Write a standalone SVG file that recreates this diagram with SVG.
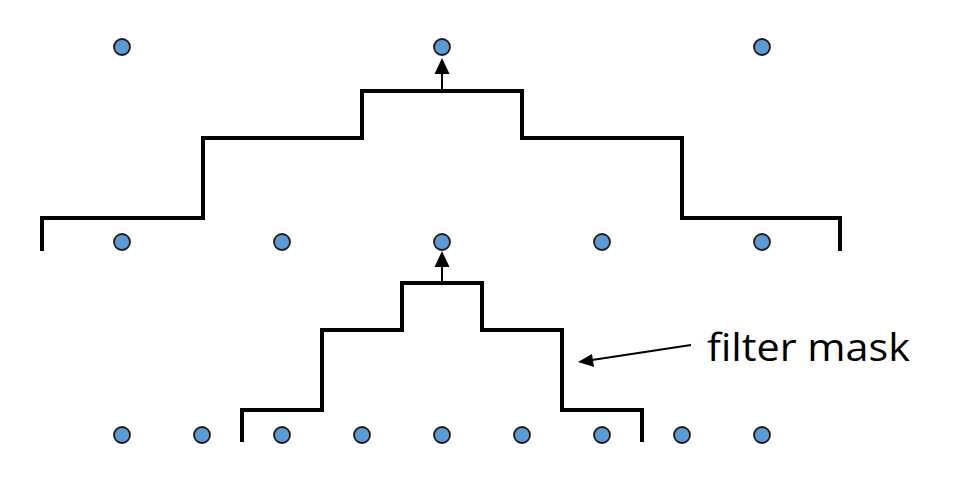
<svg xmlns="http://www.w3.org/2000/svg" width="954" height="499" viewBox="0 0 954 499">
<style>
.dot{fill:#5B9BD5;stroke:#1a1a1a;stroke-width:1.8}
.mask{fill:none;stroke:#000;stroke-width:4;stroke-linejoin:miter}
.arr{fill:none;stroke:#000;stroke-width:2}
.lbl{font-family:"Open Sans","Liberation Sans",Arial,sans-serif;font-size:38px;fill:#000}
</style>
<rect width="954" height="499" fill="#fff"/>
<g id="row-top">
<circle class="dot" cx="122" cy="47" r="8"/>
<circle class="dot" cx="442" cy="47" r="8"/>
<circle class="dot" cx="762" cy="47" r="8"/>
</g>
<g id="row-middle">
<circle class="dot" cx="122" cy="242" r="8"/>
<circle class="dot" cx="282" cy="242" r="8"/>
<circle class="dot" cx="442" cy="242" r="8"/>
<circle class="dot" cx="602" cy="242" r="8"/>
<circle class="dot" cx="762" cy="242" r="8"/>
</g>
<g id="row-bottom">
<circle class="dot" cx="122" cy="435" r="8"/>
<circle class="dot" cx="202" cy="435" r="8"/>
<circle class="dot" cx="282" cy="435" r="8"/>
<circle class="dot" cx="362" cy="435" r="8"/>
<circle class="dot" cx="442" cy="435" r="8"/>
<circle class="dot" cx="522" cy="435" r="8"/>
<circle class="dot" cx="602" cy="435" r="8"/>
<circle class="dot" cx="682" cy="435" r="8"/>
<circle class="dot" cx="762" cy="435" r="8"/>
</g>
<g id="mask-top">
<path class="mask" d="M42,251 V218 H203 V138 H362 V91 H522 V138 H682 V218 H840 V251"/>
</g>
<g id="mask-bottom">
<path class="mask" d="M242,442 V410 H322 V330 H402 V283 H482 V330 H562 V410 H642 V442"/>
</g>
<g id="label">
<text class="lbl" x="707" y="361" textLength="203" lengthAdjust="spacingAndGlyphs">filter mask</text>
</g>
<g id="connectors">
<path d="M442,89 V73" class="arr"/>
<path d="M442,58 L449.5,74 L434.5,74 z" fill="#000"/>
<path d="M442,281 V266" class="arr"/>
<path d="M442,251 L449.5,267 L434.5,267 z" fill="#000"/>
<path d="M691,345 L592,360" class="arr"/>
<path d="M578,362 L592,354 L594,367 z" fill="#000"/>
</g>
</svg>
